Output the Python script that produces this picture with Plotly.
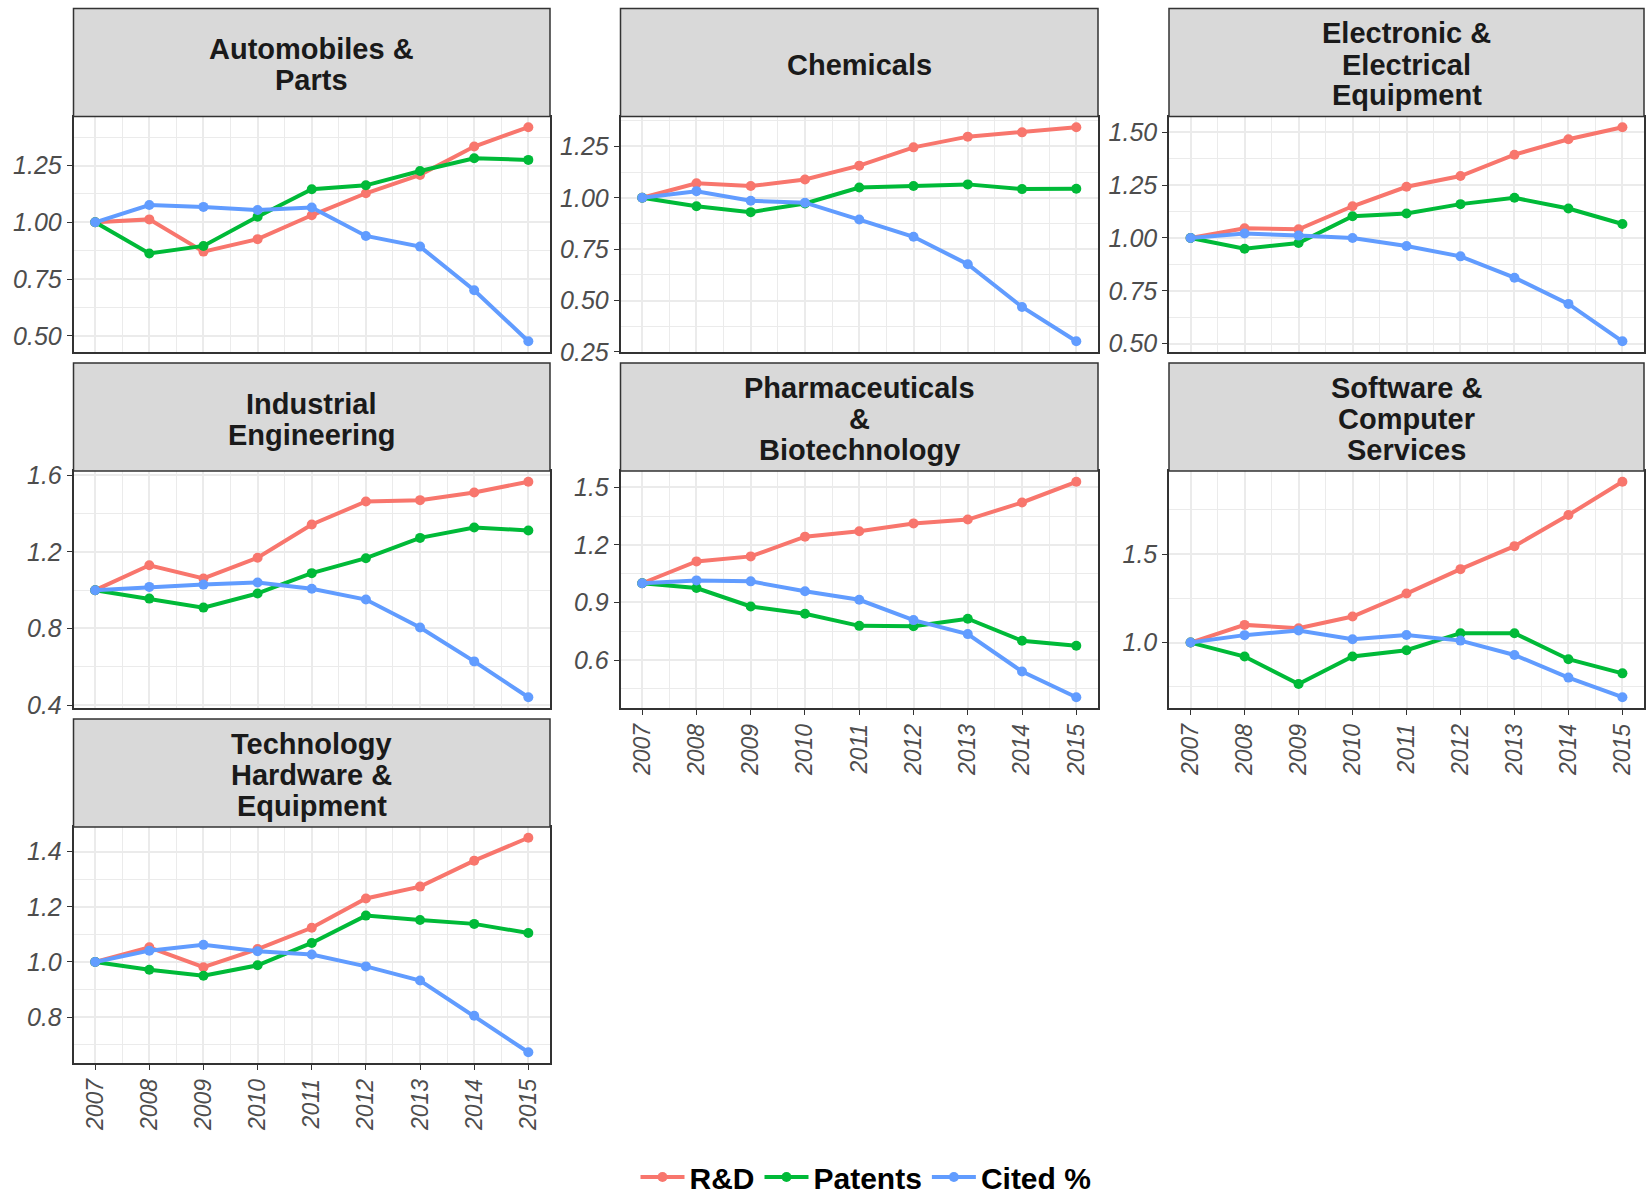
import plotly.graph_objects as go

# ---- data -------------------------------------------------------------
years = [2007, 2008, 2009, 2010, 2011, 2012, 2013, 2014, 2015]

sector_labels = [
    ["Automobiles &", "Parts"],
    ["Chemicals"],
    ["Electronic &", "Electrical", "Equipment"],
    ["Industrial", "Engineering"],
    ["Pharmaceuticals", "&", "Biotechnology"],
    ["Software &", "Computer", "Services"],
    ["Technology", "Hardware &", "Equipment"],
]

rd_values = [
    [1.00, 1.013, 0.871, 0.926, 1.031, 1.128, 1.209, 1.334, 1.419],
    [1.00, 1.070, 1.057, 1.089, 1.156, 1.245, 1.297, 1.318, 1.343],
    [1.00, 1.046, 1.041, 1.150, 1.242, 1.293, 1.394, 1.467, 1.524],
    [1.00, 1.130, 1.061, 1.169, 1.343, 1.463, 1.470, 1.510, 1.566],
    [1.00, 1.114, 1.140, 1.243, 1.271, 1.312, 1.332, 1.421, 1.529],
    [1.00, 1.100, 1.081, 1.147, 1.277, 1.415, 1.545, 1.721, 1.909],
    [1.00, 1.053, 0.981, 1.047, 1.124, 1.230, 1.273, 1.367, 1.450],
]

patent_values = [
    [1.00, 0.863, 0.896, 1.025, 1.146, 1.163, 1.226, 1.282, 1.275],
    [1.00, 0.959, 0.930, 0.972, 1.050, 1.057, 1.065, 1.042, 1.044],
    [1.00, 0.949, 0.976, 1.103, 1.116, 1.160, 1.190, 1.139, 1.066],
    [1.00, 0.956, 0.909, 0.983, 1.089, 1.167, 1.273, 1.327, 1.312],
    [1.00, 0.975, 0.879, 0.841, 0.778, 0.776, 0.815, 0.700, 0.674],
    [1.00, 0.921, 0.766, 0.921, 0.957, 1.053, 1.053, 0.906, 0.826],
    [1.00, 0.972, 0.950, 0.988, 1.069, 1.168, 1.152, 1.138, 1.105],
]

cited_values = [
    [1.00, 1.076, 1.068, 1.054, 1.065, 0.940, 0.893, 0.701, 0.476],
    [1.00, 1.032, 0.985, 0.976, 0.894, 0.810, 0.677, 0.469, 0.302],
    [1.00, 1.021, 1.011, 1.000, 0.962, 0.913, 0.812, 0.688, 0.511],
    [1.00, 1.017, 1.029, 1.040, 1.007, 0.951, 0.805, 0.628, 0.441],
    [1.00, 1.015, 1.010, 0.958, 0.914, 0.808, 0.735, 0.540, 0.406],
    [1.00, 1.042, 1.068, 1.019, 1.043, 1.011, 0.930, 0.802, 0.691],
    [1.00, 1.041, 1.062, 1.039, 1.027, 0.984, 0.933, 0.805, 0.673],
]

series_names = ["R&D", "Patents", "Cited %"]
series_colors = ["#F8766D", "#00BA38", "#619CFF"]

# ---- layout geometry (pixels) ----------------------------------------
W, H = 1646, 1197
col_px = [(73.5, 550.0), (620.5, 1098.0), (1169.0, 1644.0)]
row_plot_px = [(116.5, 352.0), (471.0, 708.0), (827.0, 1063.0)]
row_strip_px = [(8.5, 116.5), (363.0, 471.0), (719.0, 827.0)]
panel_pos = [(0, 0), (0, 1), (0, 2), (1, 0), (1, 1), (1, 2), (2, 0)]
bottom_panels = {4, 5, 6}

y_dticks = [0.25, 0.25, 0.25, 0.4, 0.3, 0.5, 0.2]
y_formats = [".2f", ".2f", ".2f", ".1f", ".1f", ".1f", ".1f"]


def px_x(v):
    return v / W


def px_y(v):
    return 1 - v / H


font_family = "Liberation Sans, Arial, sans-serif"
y_tick_font = dict(family=font_family, size=25, color="#4D4D4D", style="italic")
x_tick_font = dict(family=font_family, size=23, color="#4D4D4D", style="italic")
grid_col = "#EBEBEB"
frame_col = "#333333"

fig = go.Figure()
shapes = []
annotations = []

for i, (r, c) in enumerate(panel_pos):
    suffix = "" if i == 0 else str(i + 1)
    series_sets = [rd_values[i], patent_values[i], cited_values[i]]
    for s, vals in enumerate(series_sets):
        fig.add_trace(go.Scatter(
            x=years, y=vals, mode="lines+markers",
            name=series_names[s], legendgroup=series_names[s],
            showlegend=(i == 0),
            line=dict(color=series_colors[s], width=4),
            marker=dict(color=series_colors[s], size=10),
            xaxis="x" + suffix, yaxis="y" + suffix,
        ))

    # free y scale with 5% padding on each side
    all_vals = [v for vals in series_sets for v in vals]
    lo, hi = min(all_vals), max(all_vals)
    pad = 0.05 * (hi - lo)
    x0, x1 = col_px[c]
    py0, py1 = row_plot_px[r]
    is_bottom = i in bottom_panels

    fig.layout["xaxis" + suffix] = dict(
        domain=[px_x(x0), px_x(x1)],
        anchor="y" + suffix,
        range=[2006.6, 2015.4],
        tickmode="linear", tick0=2007, dtick=1,
        showticklabels=is_bottom, tickangle=-90,
        tickfont=x_tick_font,
        ticks="outside" if is_bottom else "", ticklen=5,
        tickcolor=frame_col, tickwidth=1.2,
        showgrid=True, gridcolor=grid_col, gridwidth=1.6,
        minor=dict(dtick=0.5, tick0=2007, showgrid=True,
                   gridcolor=grid_col, gridwidth=0.8, ticks=""),
        showline=True, mirror=True, linecolor=frame_col, linewidth=1.5,
        zeroline=False, fixedrange=True,
    )
    fig.layout["yaxis" + suffix] = dict(
        domain=[px_y(py1), px_y(py0)],
        anchor="x" + suffix,
        range=[lo - pad, hi + pad],
        tickmode="linear", tick0=0, dtick=y_dticks[i],
        tickformat=y_formats[i],
        tickfont=y_tick_font,
        ticks="outside", ticklen=5, tickcolor=frame_col, tickwidth=1.2,
        showgrid=True, gridcolor=grid_col, gridwidth=1.6,
        minor=dict(dtick=y_dticks[i] / 2, tick0=0, showgrid=True,
                   gridcolor=grid_col, gridwidth=0.8, ticks=""),
        showline=True, mirror=True, linecolor=frame_col, linewidth=1.5,
        zeroline=False, fixedrange=True,
    )

    # facet strip
    sy0, sy1 = row_strip_px[r]
    shapes.append(dict(
        type="rect", xref="paper", yref="paper",
        x0=px_x(x0), x1=px_x(x1), y0=px_y(sy1), y1=px_y(sy0),
        fillcolor="#D9D9D9", line=dict(color=frame_col, width=1.5),
        layer="above",
    ))
    lines = sector_labels[i]
    centre = (sy0 + sy1) / 2 + 2
    spacing = 31
    for k, txt in enumerate(lines):
        yc = centre + (k - (len(lines) - 1) / 2) * spacing
        annotations.append(dict(
            text=txt, xref="paper", yref="paper",
            x=px_x((x0 + x1) / 2), y=px_y(yc),
            xanchor="center", yanchor="middle", showarrow=False,
            font=dict(family=font_family, size=29,
                      color="#1A1A1A", weight="bold"),
        ))

fig.update_layout(
    width=W, height=H,
    margin=dict(l=0, r=0, t=0, b=0, autoexpand=False),
    paper_bgcolor="white", plot_bgcolor="white",
    shapes=shapes, annotations=annotations,
    showlegend=True,
    legend=dict(
        orientation="h", x=px_x(866), y=px_y(1177),
        xanchor="center", yanchor="middle",
        font=dict(family=font_family, size=30,
                  color="black", weight="bold"),
        itemwidth=44, tracegroupgap=0,
    ),
)

fig.write_html("out.html")
